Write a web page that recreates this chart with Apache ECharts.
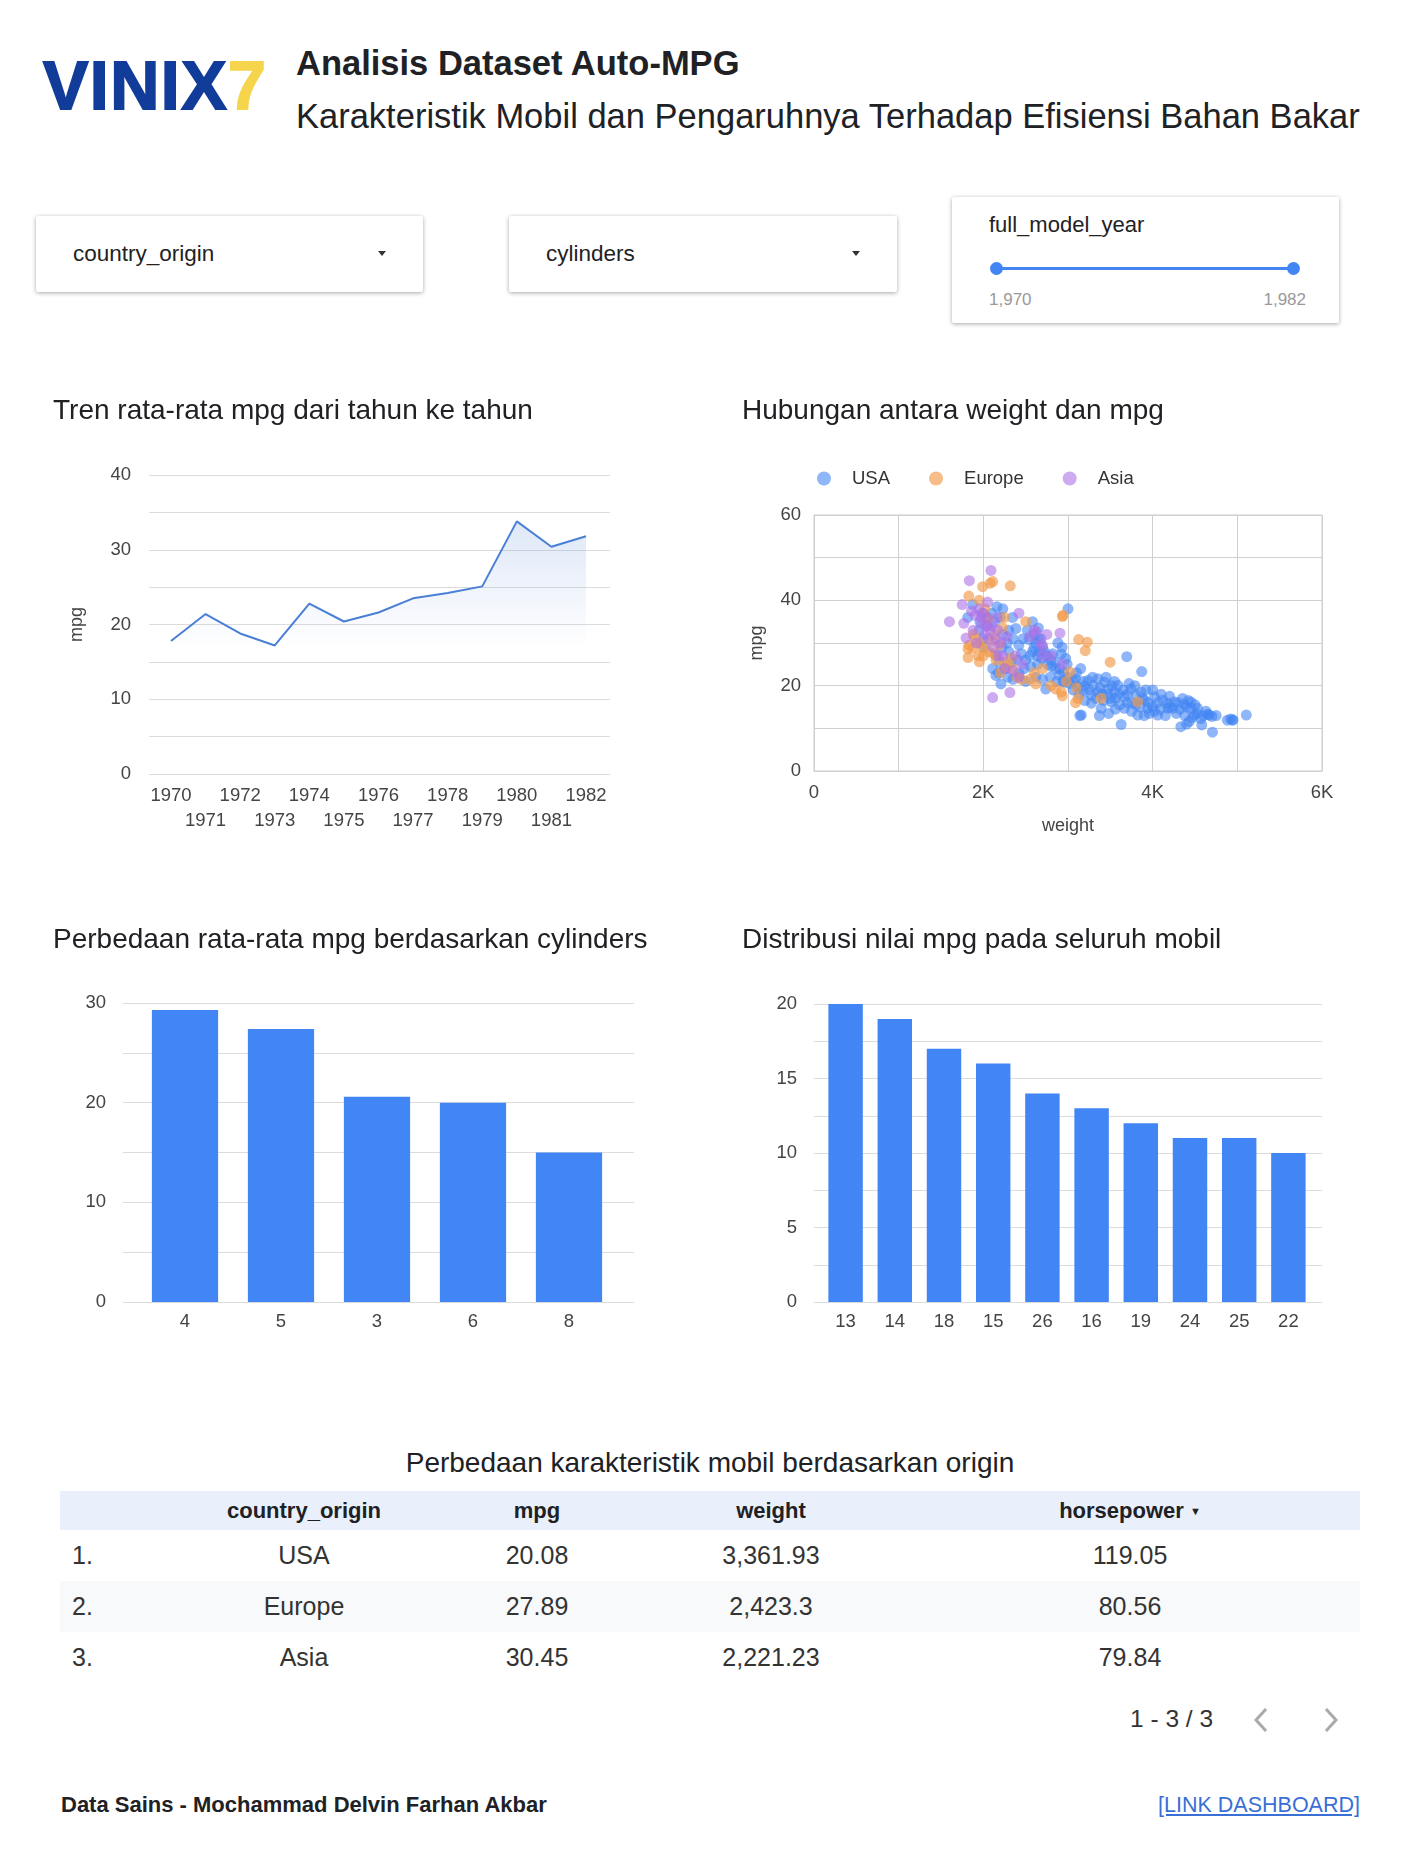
<!DOCTYPE html>
<html>
<head>
<meta charset="utf-8">
<script src="https://cdn.jsdelivr.net/npm/echarts@6/dist/echarts.min.js"></script>
<style>
body{margin:0;width:1407px;height:1875px;background:#fff;font-family:"Liberation Sans",Arial,sans-serif;color:#202124;position:relative;overflow:hidden}
.abs{position:absolute}
.logo{left:43px;top:45px;font-weight:bold;font-size:68px;letter-spacing:1.5px;color:#123c99;-webkit-text-stroke:1.8px #123c99;line-height:80px}
.logo span{color:#f6d44c;-webkit-text-stroke:1.8px #f6d44c}
.h1{left:296px;top:43px;font-size:34.5px;font-weight:bold;line-height:40px;color:#202124}
.h2{left:296px;top:96px;font-size:34.5px;line-height:40px;color:#202124}
.box{background:#fff;box-shadow:0 1px 4px rgba(0,0,0,0.35);border-radius:2px}
.dd{height:76px;line-height:76px;font-size:22.5px;color:#222}
.dd .t{position:absolute;left:37px}
.dd .arr{position:absolute;right:37px;top:35px;width:0;height:0;border-left:4px solid transparent;border-right:4px solid transparent;border-top:5px solid #333}
.chart{width:640px;height:460px}
table{border-collapse:collapse;font-size:25px;color:#333}
th{font-size:22px;font-weight:bold;color:#202124;height:39px;padding:0;background:#e9f0fb}
td{height:51px;padding:0;text-align:center}
td.idx{text-align:left;padding-left:12px}
</style>
</head>
<body>
<div class="abs logo">VINIX<span>7</span></div>
<div class="abs h1">Analisis Dataset Auto-MPG</div>
<div class="abs h2">Karakteristik Mobil dan Pengaruhnya Terhadap Efisiensi Bahan Bakar</div>

<div class="abs box dd" style="left:36px;top:216px;width:387px"><span class="t">country_origin</span><span class="arr"></span></div>
<div class="abs box dd" style="left:509px;top:216px;width:388px"><span class="t">cylinders</span><span class="arr"></span></div>
<div class="abs box" style="left:952px;top:197px;width:387px;height:126px">
  <div class="abs" style="left:37px;top:14px;font-size:22px;line-height:28px;color:#222">full_model_year</div>
  <div class="abs" style="left:45px;top:70px;width:296px;height:3px;background:#4285f4"></div>
  <div class="abs" style="left:38px;top:65px;width:13px;height:13px;border-radius:50%;background:#4285f4"></div>
  <div class="abs" style="left:335px;top:65px;width:13px;height:13px;border-radius:50%;background:#4285f4"></div>
  <div class="abs" style="left:37px;top:93px;font-size:17px;line-height:20px;color:#999">1,970</div>
  <div class="abs" style="right:33px;top:93px;font-size:17px;line-height:20px;color:#999">1,982</div>
</div>

<div id="c1" class="abs chart" style="left:40px;top:380px"></div>
<div id="c2" class="abs chart" style="left:730px;top:380px"></div>
<div id="c3" class="abs chart" style="left:40px;top:900px"></div>
<div id="c4" class="abs chart" style="left:730px;top:900px"></div>

<div class="abs" style="left:60px;top:1445px;width:1300px;text-align:center;font-size:28px;line-height:36px;color:#202124">Perbedaan karakteristik mobil berdasarkan origin</div>
<table id="tbl" class="abs" style="left:60px;top:1491px;width:1300px"></table>

<div class="abs" style="left:1130px;top:1704px;font-size:24.5px;line-height:30px;color:#333">1 - 3 / 3</div>
<svg class="abs" style="left:1250px;top:1706px" width="24" height="28"><polyline points="16,3 6,14 16,25" fill="none" stroke="#aaa" stroke-width="3"/></svg>
<svg class="abs" style="left:1318px;top:1706px" width="24" height="28"><polyline points="8,3 18,14 8,25" fill="none" stroke="#aaa" stroke-width="3"/></svg>

<div class="abs" style="left:61px;top:1792px;font-size:22px;font-weight:bold;line-height:26px;color:#202124">Data Sains - Mochammad Delvin Farhan Akbar</div>
<div class="abs" style="right:47px;top:1792px;font-size:21.5px;line-height:26px;color:#3a6fd6;text-decoration:underline">[LINK DASHBOARD]</div>

<script>
// --- data ---
var years = ['1970','1971','1972','1973','1974','1975','1976','1977','1978','1979','1980','1981','1982'];
var avgMpg = [17.8, 21.4, 18.8, 17.2, 22.8, 20.4, 21.6, 23.5, 24.2, 25.1, 33.8, 30.4, 31.8];

var cylCats = ['4','5','3','6','8'];
var cylMpg = [29.3, 27.4, 20.6, 20.0, 15.0];

var mpgCats = ['13','14','18','15','26','16','19','24','25','22'];
var mpgCount = [20, 19, 17, 16, 14, 13, 12, 11, 11, 10];

// [weight, mpg]
var usaPts = [
  [3000,38],[1875,39],[1816,36],[2345,36],[2384,33.4],[2540,30.8],[2580,28],[2660,28],[2690,26.4],[2640,25],
  [2560,24.5],[2110,24],[2149,22.4],[2208,20.4],[2423,22.8],[2737,19.2],[2855,24],[2972,26.4],[3090,21.6],[2922,27.4],
  [3694,26.8],[3871,23.3],[3157,13.1],[3628,10.9],[4333,10.4],[4580,10.8],[4706,9.1],[4667,13.1],[4882,11.9],[4941,11.9],
  [5106,13.1],[4451,14.7],[4353,17],[4177,15.9],[4020,17.4],[3863,18.5],[3745,19.3],[3588,20.1],[3471,19.3],[3353,21.6],
  [3235,21.2],[3118,19.7],[3275,17.8],[3510,16.2],[3667,14.7],[3823,13.1],[4059,13.1],[4177,14.7],[4255,16.2],[4490,13.1],
  [4451,16.2],[3941,14.7],[3902,16.6],[3392,14.7],[3275,15.9],[3804,17.8],[3667,17.4],[3549,18.5],[3431,20.8],[3353,18.5],
  [3177,18.9],[3059,21.2],[2961,20.8],[4000,15.1],[4118,16.6],[4235,14.7],[4373,15.5],[4530,14.7],[4569,12.3],[4431,11.6],
  [2600,32],[2620,30],[2700,29],[2750,27],[2800,26],[2650,31],[2550,27],[2500,26],[2480,24],[2800,24.5],
  [2900,22.5],[2950,23],[2870,21],[3000,22],[2790,22],[2700,21.5],[2620,22],[2230,32],[2300,33],[2200,36],
  [2130,35],[2050,34],[2000,31],[2300,28],[2400,26],[2150,27],[2190,25.5],[2260,24],[2350,21.5],[2500,21],
  [3200,20],[3300,20],[3400,18],[3500,17],[3600,18],[3700,16],[3800,15.5],[3950,16],[4100,18],[4200,17.5],
  [4300,16],[4400,15],[4500,15.5],[4650,13.3],[4700,12.8],[4950,12],[4400,11],[3140,13],[3750,14],[3900,13],
  [4000,19],[3720,20.5],[3450,22],[3150,24],[3100,23],[2230,38],[1985,37],[1950,33],[2045,36],[3550,21],
  [2600,29],[2640,27],[2680,31],[2720,28],[2760,25],[2820,27.5],[2860,25.5],[2900,24],[2940,21],[3020,20.5],
  [3060,19],[3130,18],[3180,21],[3250,19],[3290,22],[3330,17],[3380,19.5],[3420,16.5],[3470,18],[3520,20],
  [3560,17],[3610,15.5],[3650,19],[3700,18],[3760,16],[3790,20],[3850,15],[3880,17],[3920,19],[3960,13.5],
  [4020,14],[4060,16],[4090,14.5],[4150,13],[4200,15],[4280,13.5],[4320,14.5],[4380,13],[4420,16.5],[4470,12.5],
  [4520,13.5],[4600,13],[4630,14],[4750,13],[4920,12.2],[3370,13],[3480,13.5],[3560,14.5],[3200,16.5],[2990,25],
  [2930,29],[2880,30],[2470,31],[2420,29.5],[2350,31],[2280,30],[2220,29],[2520,33],[2580,35],[2650,33.5],
  [2450,27.5],[2330,25.5],[2290,22],[2180,23],[2010,29],[1960,35],[2100,37],[2160,38.5]
];
var europePts = [
  [2110,44.4],[1992,43.2],[2318,43.4],[1828,41],[1820,26.6],[1820,28.6],[1875,28.8],[1953,25.6],[2933,36.2],[2500,35],
  [2227,33.6],[2050,35.6],[2190,29.6],[2247,25.6],[2345,24],[2620,20.4],[2855,19.2],[2933,17.6],[3090,16],[3126,30.8],
  [3228,30.2],[3204,28.2],[3498,25.5],[2941,36.5],[3020,23.2],[3118,17],[3392,17],[3823,16.2],[2921,18.5],[2080,44],
  [1900,31],[1960,30],[2100,30.5],[2000,27],[2150,26],[2270,24.5],[2400,22],[2450,21.5],[2550,21.5],[2800,20],
  [2700,24],[2020,38],[2130,32],[1830,29.5],[1880,32],[1940,27],[1990,29],[2060,28],[2120,27.5],[2200,23],
  [2330,26.5],[2600,23],[2980,21],[3100,19.5],[2250,36],[1950,40]
];
var asiaPts = [
  [2090,47],[1835,44.6],[1750,39],[1600,35],[1770,34.6],[1796,31.2],[2050,39.6],[2420,37],[2905,32.3],[2627,32.6],
  [2110,17.2],[2314,18.4],[1970,36],[2000,37],[2030,34],[2080,33],[2010,32],[2060,31],[2120,29],[2180,27],
  [2250,24],[2420,22],[2550,31.5],[2600,33],[2680,30],[2700,29.3],[2800,27],[2930,25],[1900,36.5],[1950,38],
  [2230,27],[2350,23.5],[2150,31],[1880,33],[1920,30],[1980,34.5],[2040,36],[2100,34],[2170,33],[2210,30],
  [2280,31.5],[2380,27],[2460,25],[2700,27],[2750,32],[2160,36],[1860,37.5]
];

var tableCols = ['country_origin','mpg','weight','horsepower'];
var origins = ['USA','Europe','Asia'];
var originMpg = ['20.08','27.89','30.45'];
var originWeight = ['3,361.93','2,423.3','2,221.23'];
var originHp = ['119.05','80.56','79.84'];

// --- table ---
var html = '<tr><th></th>';
tableCols.forEach(function(c, i){
  html += '<th>' + c + (i === 3 ? ' <span style="font-size:11px;vertical-align:3px">&#9660;</span>' : '') + '</th>';
});
html += '<th></th></tr>';
for (var i = 0; i < origins.length; i++) {
  html += '<tr style="background:' + (i === 1 ? '#f8f9fa' : '#fff') + '"><td class="idx">' + (i + 1) + '.</td><td>' + origins[i] +
    '</td><td>' + originMpg[i] + '</td><td>' + originWeight[i] + '</td><td>' + originHp[i] + '</td><td></td></tr>';
}
document.getElementById('tbl').innerHTML = '<colgroup><col style="width:100px"><col style="width:288px"><col style="width:178px"><col style="width:290px"><col style="width:428px"><col style="width:16px"></colgroup>' + html;

// --- charts ---
var FONT = '"Liberation Sans", Arial, sans-serif';
var titleStyle = {fontFamily: FONT, fontSize: 28, fontWeight: 'normal', color: '#202124'};
var lbl = {fontFamily: FONT, fontSize: 18.5, color: '#444'};
var nameStyle = {fontFamily: FONT, fontSize: 18, color: '#444'};

// line chart: outer grid carries the gridlines, inner grid the inset categories
var c1 = echarts.init(document.getElementById('c1'));
c1.setOption({
  animation: false,
  title: {text: 'Tren rata-rata mpg dari tahun ke tahun', left: 8, top: 12, textStyle: titleStyle},
  grid: [
    {left: 109, right: 70, top: 95, bottom: 66},
    {left: 131, right: 94, top: 95, bottom: 66}
  ],
  xAxis: [
    {gridIndex: 0, type: 'value', show: false},
    {gridIndex: 1, type: 'category', data: years, boundaryGap: false,
      axisLine: {show: false}, axisTick: {show: false},
      axisLabel: Object.assign({}, lbl, {interval: 0, margin: 9, lineHeight: 25,
        formatter: function(v, i){ return i % 2 ? '\n' + v : v; }})}
  ],
  yAxis: [
    {gridIndex: 0, type: 'value', min: 0, max: 40, interval: 5,
      name: 'mpg', nameLocation: 'middle', nameGap: 63, nameTextStyle: nameStyle,
      axisLine: {show: false}, axisTick: {show: false},
      axisLabel: Object.assign({}, lbl, {margin: 18, formatter: function(v){ return v % 10 === 0 ? v : ''; }}),
      splitLine: {lineStyle: {color: '#dcdcdc'}}},
    {gridIndex: 1, type: 'value', min: 0, max: 40, show: false, splitLine: {show: false}}
  ],
  series: [{
    type: 'line', xAxisIndex: 1, yAxisIndex: 1, data: avgMpg, symbol: 'none',
    lineStyle: {color: '#4a7fd6', width: 2},
    areaStyle: {color: new echarts.graphic.LinearGradient(0, 0, 0, 1, [
      {offset: 0, color: 'rgba(74,127,214,0.26)'},
      {offset: 0.5, color: 'rgba(74,127,214,0)'}
    ])}
  }]
});

var c2 = echarts.init(document.getElementById('c2'));
c2.setOption({
  animation: false,
  title: {text: 'Hubungan antara weight dan mpg', left: 7, top: 12, textStyle: titleStyle},
  legend: {
    top: 84, left: 82, icon: 'circle', itemWidth: 14, itemHeight: 14, itemGap: 39,
    textStyle: {fontFamily: FONT, fontSize: 18.5, color: '#333', padding: [0, 0, 0, 16]},
    data: ['USA', 'Europe', 'Asia']
  },
  grid: {left: 84, right: 48, top: 135, bottom: 67, show: true, borderColor: '#cfcfcf', borderWidth: 1},
  xAxis: {
    type: 'value', min: 0, max: 6000, interval: 1000,
    name: 'weight', nameLocation: 'middle', nameGap: 46, nameTextStyle: nameStyle,
    axisLine: {lineStyle: {color: '#cfcfcf'}}, axisTick: {show: false},
    axisLabel: Object.assign({}, lbl, {margin: 12, formatter: function(v){ return v % 2000 === 0 ? (v === 0 ? '0' : v / 1000 + 'K') : ''; }}),
    splitLine: {lineStyle: {color: '#cfcfcf'}}
  },
  yAxis: {
    type: 'value', min: 0, max: 60, interval: 10,
    name: 'mpg', nameLocation: 'middle', nameGap: 48, nameTextStyle: nameStyle,
    axisLine: {show: true, lineStyle: {color: '#cfcfcf'}}, axisTick: {show: false},
    axisLabel: Object.assign({}, lbl, {margin: 13, formatter: function(v){ return v % 20 === 0 ? v : ''; }}),
    splitLine: {lineStyle: {color: '#cfcfcf'}}
  },
  series: [
    {name: 'USA', type: 'scatter', data: usaPts, symbolSize: 11, itemStyle: {color: '#4285f4', opacity: 0.6}},
    {name: 'Europe', type: 'scatter', data: europePts, symbolSize: 11, itemStyle: {color: '#f39a4a', opacity: 0.65}},
    {name: 'Asia', type: 'scatter', data: asiaPts, symbolSize: 11, itemStyle: {color: '#ad72e6', opacity: 0.6}}
  ]
});

// bar charts: same two-grid trick so the bars sit inside the gridlines
function barOpt(title, cats, vals, max, step, labStep, g, bw) {
  return {
    animation: false,
    title: {text: title, left: g.tl, top: 21, textStyle: titleStyle},
    grid: [
      {left: g.left, right: g.right, top: g.top, bottom: g.bottom},
      {left: g.innerLeft, right: g.innerRight, top: g.top, bottom: g.bottom}
    ],
    xAxis: [
      {gridIndex: 0, type: 'value', show: false},
      {gridIndex: 1, type: 'category', data: cats, axisLine: {show: false}, axisTick: {show: false},
        axisLabel: Object.assign({}, lbl, {margin: 10})}
    ],
    yAxis: [
      {gridIndex: 0, type: 'value', min: 0, max: max, interval: step,
        axisLine: {show: false}, axisTick: {show: false},
        axisLabel: Object.assign({}, lbl, {margin: 17, formatter: function(v){ return v % labStep === 0 ? v : ''; }}),
        splitLine: {lineStyle: {color: '#dcdcdc'}}},
      {gridIndex: 1, type: 'value', min: 0, max: max, show: false, splitLine: {show: false}}
    ],
    series: [{type: 'bar', xAxisIndex: 1, yAxisIndex: 1, data: vals, barWidth: bw, itemStyle: {color: '#4285f4'}}]
  };
}

var c3 = echarts.init(document.getElementById('c3'));
c3.setOption(barOpt('Perbedaan rata-rata mpg berdasarkan cylinders', cylCats, cylMpg, 30, 5, 10,
  {tl: 8, left: 83, right: 46, innerLeft: 97, innerRight: 63, top: 103, bottom: 58}, '69%'));

var c4 = echarts.init(document.getElementById('c4'));
c4.setOption(barOpt('Distribusi nilai mpg pada seluruh mobil', mpgCats, mpgCount, 20, 2.5, 5,
  {tl: 7, left: 84, right: 48, innerLeft: 91, innerRight: 57, top: 104, bottom: 58}, '70%'));
</script>
</body>
</html>
